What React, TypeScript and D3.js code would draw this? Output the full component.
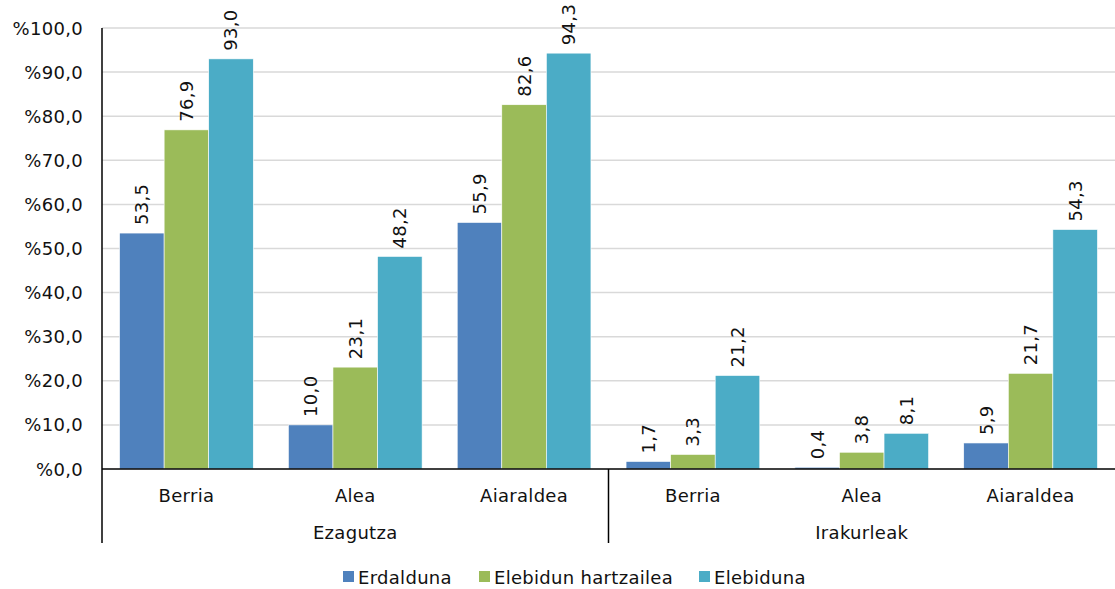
import React from "react";
import * as d3 from "d3";

const groups = ["Ezagutza", "Irakurleak"];
const categories = ["Berria", "Alea", "Aiaraldea"];
const seriesNames = ["Erdalduna", "Elebidun hartzailea", "Elebiduna"];
const colors = ["#4F81BD", "#9BBB59", "#4BACC6"];
// values per series, in order: Ezagutza(Berria, Alea, Aiaraldea), Irakurleak(Berria, Alea, Aiaraldea)
const erdalduna = [53.5, 10.0, 55.9, 1.7, 0.4, 5.9];
const elebidunHartzailea = [76.9, 23.1, 82.6, 3.3, 3.8, 21.7];
const elebiduna = [93.0, 48.2, 94.3, 21.2, 8.1, 54.3];
const yTicks = [0, 10, 20, 30, 40, 50, 60, 70, 80, 90, 100];

const W = 1115;
const H = 589;
const FONT = "'DejaVu Sans', Verdana, sans-serif";
const FS = 18;
const LS = 0.3;

export default function App() {
  const left = 102;
  const right = 1115;
  const top = 28;
  const bottom = 469;
  const seriesData = [erdalduna, elebidunHartzailea, elebiduna];
  const keys: string[] = [];
  groups.forEach((g) => categories.forEach((c) => keys.push(g + "|" + c)));

  const x0 = d3.scaleBand<string>().domain(keys).range([left, right]).padding(0);
  const bw = x0.bandwidth();
  const x1 = d3
    .scaleBand<string>()
    .domain(seriesNames)
    .range([bw * 0.104, bw * 0.896])
    .padding(0);
  const y = d3.scaleLinear().domain([0, 100]).range([bottom, top]);
  const fmt = (v: number) => v.toFixed(1).replace(".", ",");

  const groupScale = d3.scaleBand<string>().domain(groups).range([left, right]);

  return (
    <svg
      width={W}
      height={H}
      style={{ position: "absolute", left: 0, top: 0, background: "#fff" }}
      fontFamily={FONT}
      letterSpacing={LS}
    >
      {yTicks.map((t) => (
        <g key={t}>
          {t > 0 && (
            <line x1={left} x2={right} y1={y(t)} y2={y(t)} stroke="#D9D9D9" strokeWidth={1.5} />
          )}
          <text x={83} y={y(t) + 6.5} textAnchor="end" fontSize={FS} fill="#111">
            {"%" + fmt(t)}
          </text>
        </g>
      ))}
      {keys.map((k, i) => (
        <g key={k} transform={`translate(${x0(k)},0)`}>
          {seriesNames.map((s, j) => {
            const v = seriesData[j][i];
            const bx = x1(s) as number;
            const cx = bx + x1.bandwidth() / 2;
            return (
              <g key={s}>
                <rect
                  x={bx}
                  y={y(v)}
                  width={x1.bandwidth()}
                  height={bottom - y(v)}
                  fill={colors[j]}
                  stroke="#fff"
                  strokeWidth={0.6}
                />
                <text
                  transform={`translate(${cx + 6.5},${y(v) - 8}) rotate(-90)`}
                  fontSize={FS}
                  fill="#111"
                >
                  {fmt(v)}
                </text>
              </g>
            );
          })}
          <text x={bw / 2} y={501.5} textAnchor="middle" fontSize={FS} fill="#111">
            {k.split("|")[1]}
          </text>
        </g>
      ))}
      {groups.map((g) => (
        <text
          key={g}
          x={(groupScale(g) as number) + groupScale.bandwidth() / 2}
          y={538.5}
          textAnchor="middle"
          fontSize={FS}
          fill="#111"
        >
          {g}
        </text>
      ))}
      <line x1={left} x2={right} y1={bottom} y2={bottom} stroke="#000" strokeWidth={1.5} />
      <line x1={left} x2={left} y1={top} y2={543} stroke="#000" strokeWidth={1.5} />
      {groups.slice(1).map((g) => (
        <line
          key={g}
          x1={groupScale(g) as number}
          x2={groupScale(g) as number}
          y1={bottom}
          y2={543}
          stroke="#000"
          strokeWidth={1.5}
        />
      ))}
      {seriesNames.map((s, j) => {
        const lx = [343, 479, 699][j];
        return (
          <g key={s}>
            <rect x={lx} y={571} width={11} height={11} fill={colors[j]} />
            <text x={lx + 15} y={583.5} fontSize={FS} fill="#111">
              {s}
            </text>
          </g>
        );
      })}
    </svg>
  );
}
